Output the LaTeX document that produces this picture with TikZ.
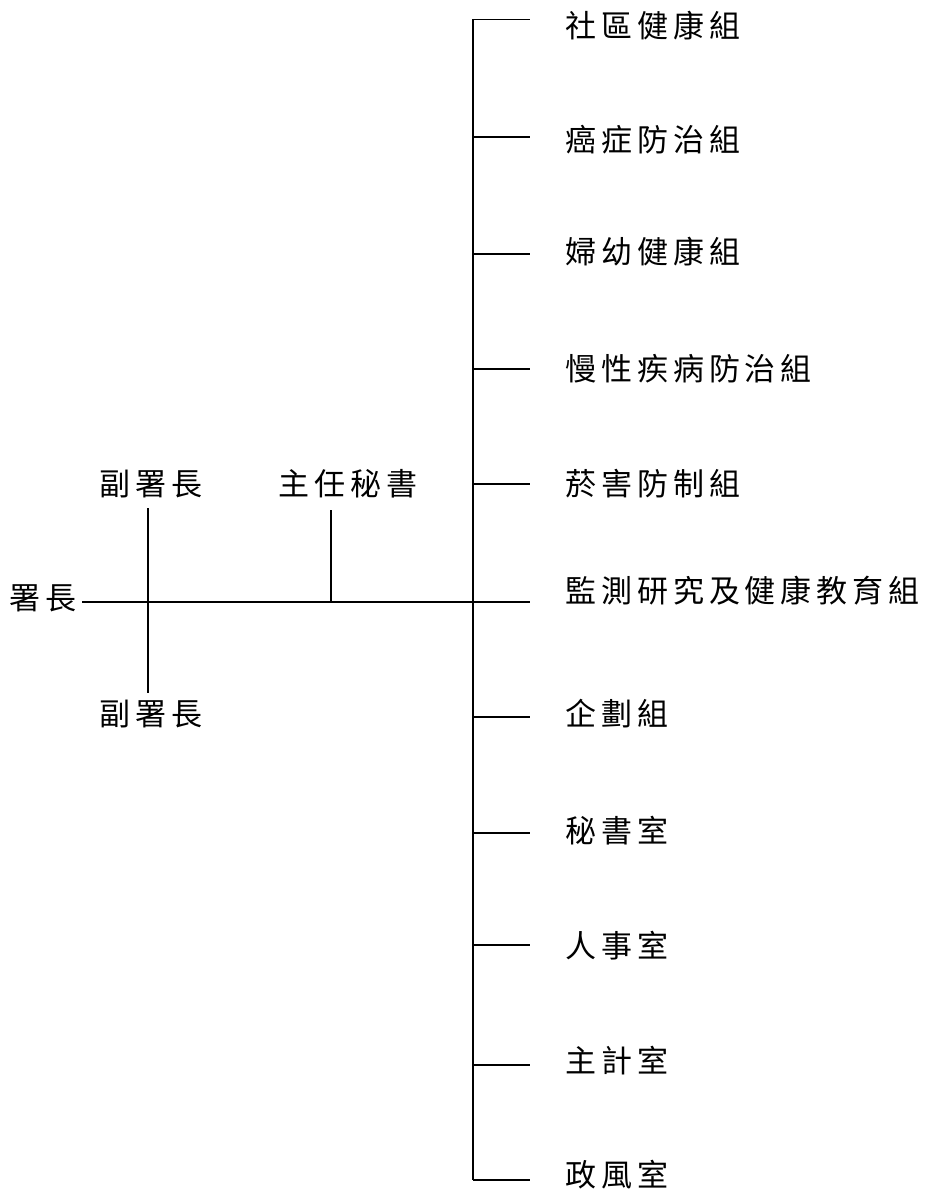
\documentclass[tikz,border=0pt]{standalone}
\usepackage{fontspec}
\newfontfamily\cjk[LetterSpace=16]{Noto Sans CJK TC}
\begin{document}
\begin{tikzpicture}[x=1pt,y=-1pt,
  lbl/.style={inner sep=0pt,font=\cjk\fontsize{31pt}{33pt}\selectfont},
  ln/.style={line width=1.5pt}]
\useasboundingbox (0,0) rectangle (924,1193);
% left part
\node[lbl,anchor=west] (chief) at (9,598) {署長};
\node[lbl] (dep1) at (151,484) {副署長};
\node[lbl] (dep2) at (151,714) {副署長};
\node[lbl] (sec) at (348,484) {主任秘書};
\coordinate (hstart) at (82,602);
\coordinate (vtop) at (148,508);
\coordinate (vbot) at (148,693);
\coordinate (stop) at (331,510);
\coordinate (sjoin) at (331,602);
\coordinate (ttop) at (473,19.5);
\coordinate (tbot) at (473,1180);
\draw[ln] (hstart) -- (473,602);
\draw[ln] (vtop) -- (vbot);
\draw[ln] (stop) -- (sjoin);
\draw[ln] (ttop) -- (tbot);
% branches
\foreach \ly/\ty/\name/\txt in {
  19.5/26/u1/社區健康組,
  137/140/u2/癌症防治組,
  254/252/u3/婦幼健康組,
  369/369/u4/慢性疾病防治組,
  484/484/u5/菸害防制組,
  602/591/u6/監測研究及健康教育組,
  717/714/u7/企劃組,
  833/831/u8/秘書室,
  945/946/u9/人事室,
  1065/1061/u10/主計室,
  1180/1175/u11/政風室}{
  \node[lbl,anchor=west] (\name) at (565,\ty) {\txt};
  \coordinate (\name-a) at (473,\ly);
  \coordinate (\name-b) at (530,\ly);
  \draw[ln] (\name-a) -- (\name-b);
}
\end{tikzpicture}
\end{document}
